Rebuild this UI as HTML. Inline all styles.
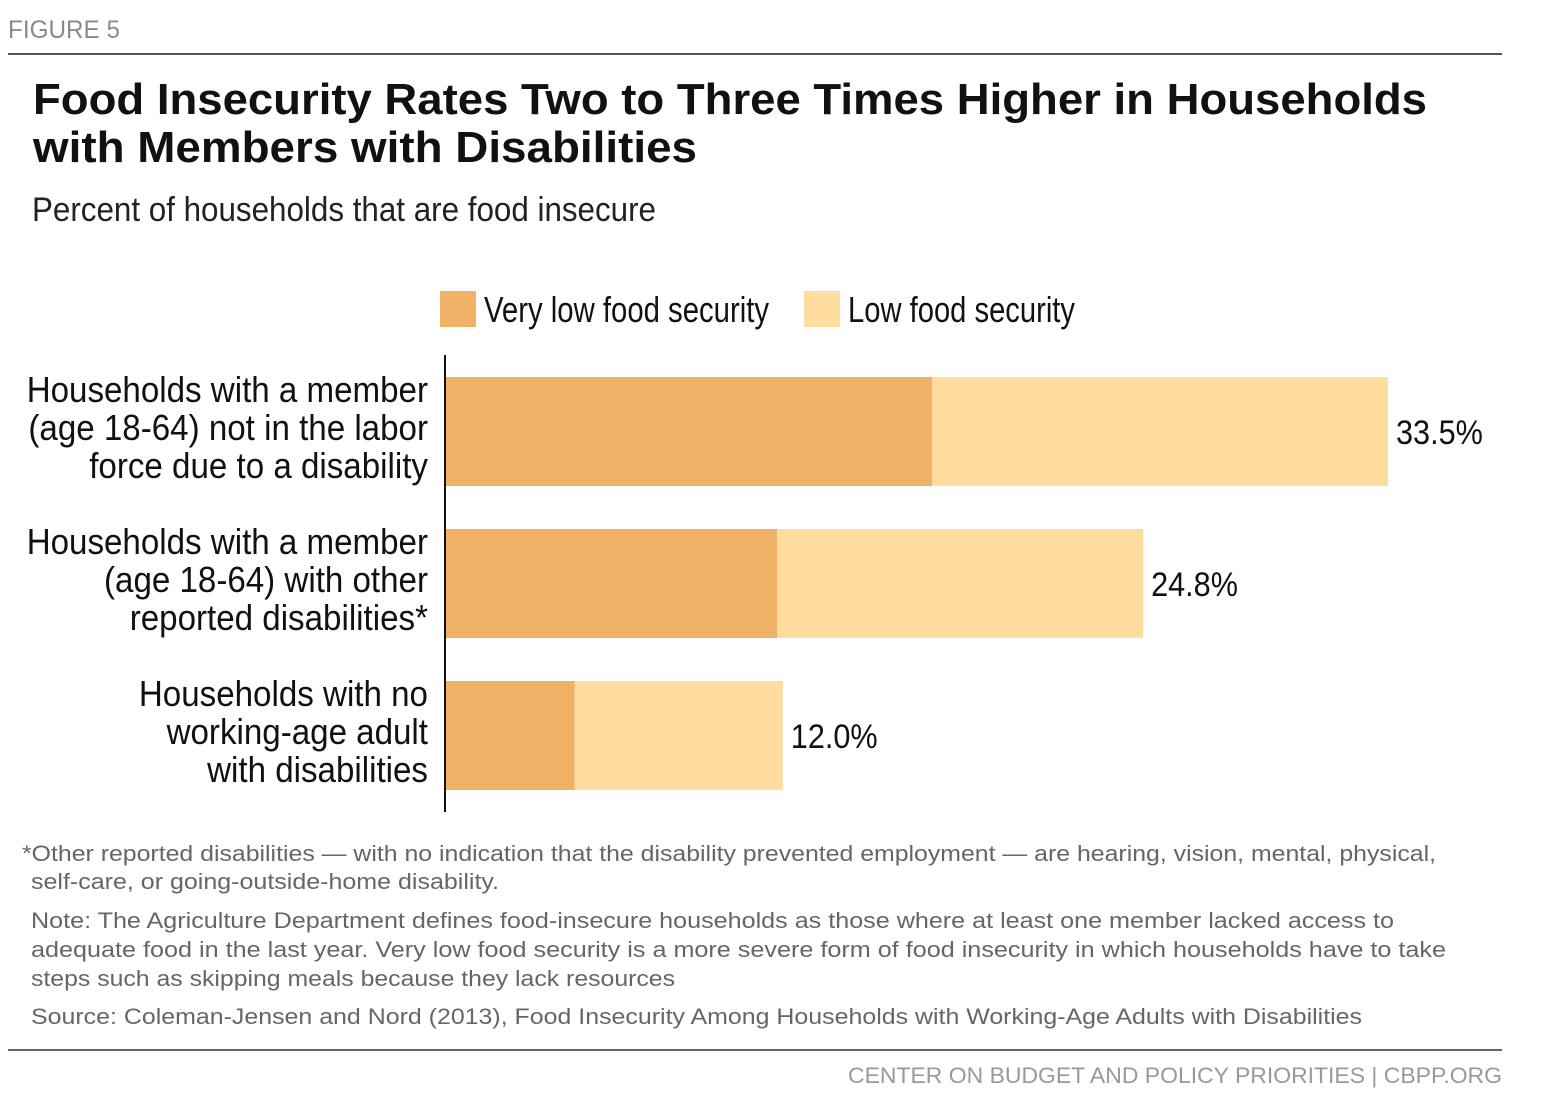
<!DOCTYPE html>
<html><head><meta charset="utf-8"><style>
html,body{margin:0;padding:0;background:#fff;}
svg{display:block;font-family:"Liberation Sans",sans-serif;}
</style></head><body>
<svg id="chart" width="1544" height="1106" viewBox="0 0 1544 1106" xmlns="http://www.w3.org/2000/svg">
<text x="8" y="38" font-size="25" fill="#8a8a8a" textLength="112" lengthAdjust="spacingAndGlyphs">FIGURE 5</text>
<rect x="8" y="53" width="1494" height="2" fill="#555"/>
<text font-size="44" font-weight="bold" fill="#111">
<tspan x="33" y="114" textLength="1394" lengthAdjust="spacingAndGlyphs">Food Insecurity Rates Two to Three Times Higher in Households</tspan>
<tspan x="33" y="162" textLength="664" lengthAdjust="spacingAndGlyphs">with Members with Disabilities</tspan>
</text>
<text x="32" y="221" font-size="34" fill="#222" textLength="624" lengthAdjust="spacingAndGlyphs">Percent of households that are food insecure</text>
<g>
<rect x="440" y="291" width="36" height="36" fill="#F0B266"/>
<text x="484" y="322" font-size="36" fill="#111" textLength="285" lengthAdjust="spacingAndGlyphs">Very low food security</text>
<rect x="804" y="291" width="36" height="36" fill="#FEDD9E"/>
<text x="848" y="322" font-size="36" fill="#111" textLength="227" lengthAdjust="spacingAndGlyphs">Low food security</text>
</g>
<g id="bars"></g>
<g id="labels"></g>
<rect x="444" y="355" width="2" height="457" fill="#111"/>
<g font-size="22" fill="#666">
<text><tspan x="22" y="861" textLength="1414" lengthAdjust="spacingAndGlyphs">*Other reported disabilities — with no indication that the disability prevented employment — are hearing, vision, mental, physical,</tspan><tspan x="31" y="889" textLength="468" lengthAdjust="spacingAndGlyphs">self-care, or going-outside-home disability.</tspan></text>
<text><tspan x="31" y="928" textLength="1363" lengthAdjust="spacingAndGlyphs">Note:  The Agriculture Department defines food-insecure households as those where at least one member lacked access to</tspan><tspan x="31" y="957" textLength="1415" lengthAdjust="spacingAndGlyphs">adequate food in the last year.  Very low food security is a more severe form of food insecurity in which households have to take</tspan><tspan x="31" y="986" textLength="644" lengthAdjust="spacingAndGlyphs">steps such as skipping meals because they lack resources</tspan></text>
<text x="31" y="1024" textLength="1331" lengthAdjust="spacingAndGlyphs">Source:  Coleman-Jensen and Nord (2013), Food Insecurity Among Households with Working-Age Adults with Disabilities</text>
</g>
<rect x="8" y="1049" width="1494" height="2" fill="#666"/>
<text x="848" y="1083" font-size="22" fill="#999" textLength="654" lengthAdjust="spacingAndGlyphs">CENTER ON BUDGET AND POLICY PRIORITIES | CBPP.ORG</text>
</svg>
<script>
const categories = [
  ["Households with a member","(age 18-64) not in the labor","force due to a disability"],
  ["Households with a member","(age 18-64) with other","reported disabilities*"],
  ["Households with no","working-age adult","with disabilities"]
];
const veryLow = [17.3, 11.8, 4.6];
const total = [33.5, 24.8, 12.0];
const totalLabels = ["33.5%", "24.8%", "12.0%"];

const NS = "http://www.w3.org/2000/svg";
const x0 = 445, pxPer = 28.15;
function xScale(v){ return x0 + v * pxPer; }
function yBand(i){ return 377 + i * 152; }
const bandH = 109;
const barsG = document.getElementById('bars');
const labelsG = document.getElementById('labels');
function mk(tag, attrs){ const e = document.createElementNS(NS, tag); for (const k in attrs) e.setAttribute(k, attrs[k]); return e; }

categories.forEach((lines, i) => {
  const y = yBand(i);
  const r1 = mk('rect', {x: xScale(0), y: y, width: xScale(veryLow[i]) - xScale(0), height: bandH, fill: '#F0B266'});
  
  
  barsG.appendChild(r1);
  const r2 = mk('rect', {x: xScale(veryLow[i]), y: y, width: xScale(total[i]) - xScale(veryLow[i]), height: bandH, fill: '#FEDD9E'});
  
  
  barsG.appendChild(r2);
  const vt = mk('text', {x: xScale(total[i]) + 8, y: y + 67, 'font-size': 34, fill: '#111'});
  vt.textContent = totalLabels[i];
  
  
  barsG.appendChild(vt);
  const vw = vt.getComputedTextLength();
  vt.setAttribute('textLength', (vw * 0.9).toFixed(1));
  vt.setAttribute('lengthAdjust', 'spacingAndGlyphs');
  lines.forEach((ln, j) => {
    const t = mk('text', {x: 428, y: y + 25 + j * 38, 'font-size': 36, fill: '#111', 'text-anchor': 'end'});
    t.textContent = ln;
    
    
    labelsG.appendChild(t);
    const w = t.getComputedTextLength();
    t.setAttribute('textLength', (w * 0.92).toFixed(1));
    t.setAttribute('lengthAdjust', 'spacingAndGlyphs');
  });
});
</script>
</body></html>
